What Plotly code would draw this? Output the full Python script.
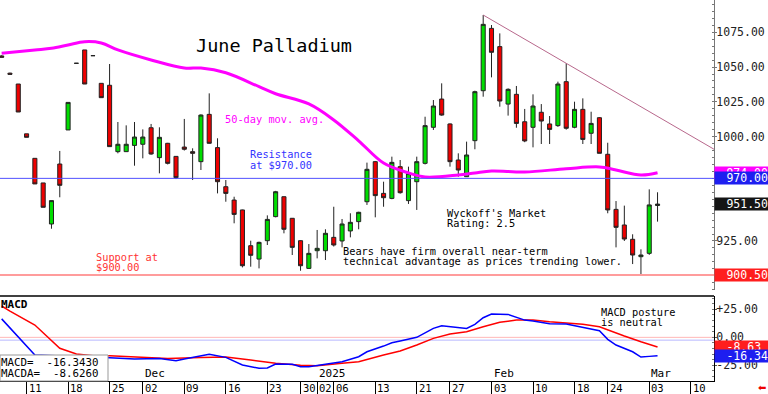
import plotly.graph_objects as go

# ---------------- data ----------------
dates = ['2024-11-06', '2024-11-07', '2024-11-08', '2024-11-11', '2024-11-12', '2024-11-13', '2024-11-14',
         '2024-11-15', '2024-11-18', '2024-11-19', '2024-11-20', '2024-11-21', '2024-11-22', '2024-11-25',
         '2024-11-26', '2024-11-27', '2024-11-29', '2024-12-02', '2024-12-03', '2024-12-04', '2024-12-05',
         '2024-12-06', '2024-12-09', '2024-12-10', '2024-12-11', '2024-12-12', '2024-12-13', '2024-12-16',
         '2024-12-17', '2024-12-18', '2024-12-19', '2024-12-20', '2024-12-23', '2024-12-24', '2024-12-26',
         '2024-12-27', '2024-12-30', '2024-12-31', '2025-01-02', '2025-01-03', '2025-01-06', '2025-01-07',
         '2025-01-08', '2025-01-09', '2025-01-10', '2025-01-13', '2025-01-14', '2025-01-15', '2025-01-16',
         '2025-01-17', '2025-01-21', '2025-01-22', '2025-01-23', '2025-01-24', '2025-01-27', '2025-01-28',
         '2025-01-29', '2025-01-30', '2025-01-31', '2025-02-03', '2025-02-04', '2025-02-05', '2025-02-06',
         '2025-02-07', '2025-02-10', '2025-02-11', '2025-02-12', '2025-02-13', '2025-02-14', '2025-02-18',
         '2025-02-19', '2025-02-20', '2025-02-21', '2025-02-24', '2025-02-25', '2025-02-26', '2025-02-27',
         '2025-02-28', '2025-03-03', '2025-03-04']

opens = [1058.0, 1045.6, 1037.8, 1002.0, 984.4, 966.7, 937.2, 980.3, 1004.8, 1052.7,
         1062.3, 1058.2, 1038.3, 1036.9, 989.2, 989.2, 993.7, 994.5, 1006.4, 984.9,
         995.2, 985.8, 992.5, 989.2, 982.0, 1016.0, 992.1, 964.0, 954.4, 947.3,
         921.6, 912.0, 925.2, 942.5, 956.8, 941.3, 925.2, 905.3, 918.0, 918.0,
         927.6, 925.0, 932.2, 938.9, 953.2, 982.0, 959.2, 955.6, 978.4, 954.0,
         967.6, 980.8, 1006.7, 1027.0, 1009.1, 983.2, 971.2, 997.1, 1033.0, 1077.8,
         1064.7, 1023.4, 1030.4, 1010.7, 1006.7, 1017.5, 1009.1, 1007.9, 1039.5, 1006.7,
         1019.6, 1002.4, 1013.6, 987.3, 947.7, 936.5, 926.2, 913.7, 916.1, 950.5]
highs = [1058.5, 1046.0, 1037.8, 1002.0, 984.4, 966.7, 954.0, 989.7, 1024.6, 1052.7,
         1062.3, 1058.2, 1038.3, 1052.2, 1010.5, 1008.1, 1010.5, 1005.2, 1009.1, 1006.7,
         995.5, 986.0, 1012.7, 991.6, 1016.0, 1031.1, 998.8, 968.8, 956.8, 947.5,
         925.2, 924.5, 943.4, 961.0, 957.0, 941.5, 925.5, 922.8, 932.9, 933.4,
         949.6, 940.8, 944.9, 946.0, 981.3, 982.5, 967.6, 985.6, 983.2, 978.4,
         985.6, 1014.3, 1026.3, 1038.3, 1009.5, 988.0, 996.4, 1033.0, 1087.4, 1080.2,
         1074.2, 1034.7, 1036.4, 1019.9, 1030.4, 1023.4, 1014.8, 1039.5, 1052.7, 1025.1,
         1027.5, 1017.9, 1014.0, 995.6, 953.7, 950.4, 929.8, 919.0, 962.1, 960.0]
lows = [1057.0, 1044.8, 1017.7, 999.5, 966.0, 949.2, 933.8, 956.4, 1004.8, 1052.7,
        1037.8, 1058.2, 1028.0, 992.8, 988.0, 989.0, 979.1, 984.4, 987.0, 973.6,
        980.0, 969.5, 990.0, 968.8, 976.0, 995.0, 959.2, 953.2, 937.7, 906.0,
        906.5, 905.3, 922.1, 942.0, 930.5, 914.9, 903.6, 905.0, 912.5, 911.3,
        921.0, 920.4, 927.6, 933.4, 950.9, 942.0, 949.6, 955.0, 959.0, 951.6,
        947.3, 980.0, 1004.8, 1015.0, 978.4, 971.2, 971.0, 990.9, 1028.7, 1042.6,
        1021.5, 1015.1, 1006.4, 996.0, 992.3, 994.7, 994.7, 1007.0, 1005.0, 1006.0,
        994.7, 994.7, 988.0, 944.9, 920.4, 925.0, 908.4, 900.5, 915.0, 938.9]
closes = [1057.0, 1044.8, 1017.7, 999.5, 966.0, 949.2, 954.0, 965.0, 1024.6, 1052.7,
          1037.8, 1058.2, 1028.0, 992.8, 994.5, 994.5, 999.7, 999.7, 987.5, 999.5,
          980.8, 970.5, 990.9, 988.0, 1015.5, 995.2, 967.6, 959.2, 944.1, 907.2,
          914.7, 924.0, 940.5, 960.4, 933.4, 920.4, 907.2, 916.1, 919.7, 930.5,
          922.1, 937.2, 938.4, 945.6, 976.5, 957.6, 956.1, 981.5, 959.7, 973.6,
          982.0, 1007.9, 1022.0, 1015.5, 982.0, 976.0, 986.8, 1032.3, 1080.7, 1060.6,
          1025.6, 1034.0, 1009.5, 996.9, 1022.0, 1011.2, 1005.2, 1037.8, 1006.0, 1019.6,
          998.0, 1009.5, 988.0, 947.3, 934.8, 926.4, 914.9, 914.9, 950.9, 951.5]

# 50-day moving average (read at selected days)
ma_days = [0, 4, 6, 8, 10, 12, 14, 18, 22, 24, 27, 31, 33, 37, 40, 43, 46, 49, 51, 55,
           57, 59, 63, 68, 72, 74, 77, 79]
ma_vals = [1060.0, 1062.3, 1063.5, 1065.9, 1068.2, 1067.3, 1062.3, 1055.1, 1049.3, 1049.3,
           1045.9, 1035.9, 1030.8, 1023.5, 1012.0, 997.0, 981.0, 973.9, 971.0, 972.4,
           973.9, 975.3, 974.6, 976.9, 978.2, 976.0, 972.4, 974.0]

# MACD (blue) and MACDA signal (red)
macd_days = [0, 4, 13, 16, 19, 21, 22, 25, 27, 29, 31, 32, 33, 35, 36, 37, 39, 41, 43, 44,
             46, 47, 48, 50, 52, 53, 56, 57, 58, 59, 61, 63, 64, 66, 68, 69, 70, 72, 73, 74,
             76, 77, 78, 79]
macd_vals = [16.5, -15.8, -18.2, -19.4, -18.8, -20.9, -19.4, -15.2, -17.9, -24.7, -27.7, -27.4,
             -23.8, -24.1, -26.2, -26.2, -24.1, -21.8, -17.3, -12.9, -7.8, -4.8, -3.2, 0.0,
             8.0, 10.4, 8.0, 11.6, 17.5, 20.8, 20.5, 15.4, 14.6, 12.1, 11.9, 10.4, 8.6, 5.9,
             -1.8, -6.9, -12.9, -17.6, -17.0, -16.343]
sig_days = [0, 1, 4, 7, 9, 11, 13, 16, 20, 24, 27, 30, 33, 36, 38, 41, 43, 46, 48, 50,
            52, 54, 56, 58, 60, 62, 64, 66, 68, 70, 72, 73, 75, 77, 79]
sig_vals = [28.0, 23.5, 11.0, -9.8, -14.9, -16.4, -16.4, -17.3, -18.8, -17.9, -17.6, -20.3,
            -23.2, -25.0, -25.3, -23.2, -21.8, -15.8, -12.2, -6.9, -0.9, 2.9, 5.0, 9.5, 13.4,
            15.4, 15.4, 13.9, 13.0, 11.6, 9.5, 6.5, 1.2, -3.9, -8.626]

tick_days = [3, 8, 13, 17, 22, 27, 32, 36, 38, 40, 45, 50, 54, 59, 64, 69, 73, 78, 83]
tick_labels = ['11', '18', '25', '02', '09', '16', '23', '30', '02', '06', '13', '21', '27',
               '03', '10', '18', '24', '03', '10']
month_days = [17, 38, 59, 78]
month_labels = ['Dec', '2025', 'Feb', 'Mar']

price_ticks = [900, 925, 950, 975, 1000, 1025, 1050, 1075]
price_ticklabels = ['', '925.00', '', '', '1000.00', '1025.00', '1050.00', '1075.00']  # others hidden by value boxes
macd_ticks = [25, 0, -25]
macd_ticklabels = ['+25.00', '0.00', '-25.00']

resistance = 970.0
support = 900.5
ma_last = 974.00
trend_days = [58, 68]   # trendline drawn across the highs of these sessions

# ---------------- figure ----------------
MONO = 'DejaVu Sans Mono'
x = list(range(len(dates)))
XR = [-0.2, 85.8]
fig = go.Figure()

fig.add_trace(go.Scatter(x=ma_days, y=ma_vals, mode='lines', line=dict(color='#FF00FF', width=3, shape='spline'),
                         xaxis='x', yaxis='y', hoverinfo='skip'))

fig.add_trace(go.Candlestick(
    x=x, open=opens, high=highs, low=lows, close=closes, xaxis='x', yaxis='y',
    increasing=dict(line=dict(color='#222222', width=1), fillcolor='#00DD00'),
    decreasing=dict(line=dict(color='#222222', width=1), fillcolor='#EE0000'),
    whiskerwidth=0, showlegend=False))

# trendline through the highs
slope = (highs[trend_days[1]] - highs[trend_days[0]]) / (trend_days[1] - trend_days[0])
tx = [trend_days[0], XR[1] + 1]
ty = [highs[trend_days[0]], highs[trend_days[0]] + slope * (tx[1] - trend_days[0])]
fig.add_trace(go.Scatter(x=tx, y=ty, mode='lines', line=dict(color='#B8688C', width=1), xaxis='x', yaxis='y'))

# MACD panel lines
fig.add_trace(go.Scatter(x=XR, y=[0, 0], mode='lines', line=dict(color='#FFB8B8', width=1), xaxis='x2', yaxis='y2'))
fig.add_trace(go.Scatter(x=XR, y=[-2.5, -2.5], mode='lines', line=dict(color='#B8B8FF', width=1), xaxis='x2', yaxis='y2'))
fig.add_trace(go.Scatter(x=sig_days, y=sig_vals, mode='lines', line=dict(color='#FF0000', width=1.5), xaxis='x2', yaxis='y2'))
fig.add_trace(go.Scatter(x=macd_days, y=macd_vals, mode='lines', line=dict(color='#0000FF', width=1.5), xaxis='x2', yaxis='y2'))

shapes = [
    dict(type='line', xref='x domain', yref='y', x0=0, x1=1, y0=resistance, y1=resistance,
         line=dict(color='#5050FF', width=1)),
    dict(type='line', xref='x domain', yref='y', x0=0, x1=1, y0=support, y1=support,
         line=dict(color='#FF9C9C', width=2)),
    dict(type='line', xref='paper', yref='paper', x0=0, x1=1, y0=0.223, y1=0.223,
         line=dict(color='#000000', width=1.5)),
    dict(type='rect', xref='paper', yref='paper', x0=0, x1=108 / 714, y0=0, y1=(381 - 355) / 381,
         line=dict(color='#999999', width=1), fillcolor='white', layer='above'),
]

H = 381.0
W = 714.0


def px(xp):
    return xp / W


def py(yp):
    return 1 - yp / H


ann = []


def text(t, xp, yp, size=10.3, color='#000000', bold=False):
    ann.append(dict(text=('<b>%s</b>' % t) if bold else t, xref='paper', yref='paper', x=px(xp), y=py(yp),
                    xanchor='left', yanchor='middle', showarrow=False, borderpad=0,
                    font=dict(family=MONO, size=size, color=color)))


text('June Palladium', 195, 45, size=18.5)
text('50-day mov. avg.', 224, 119.5, color='#FF00FF')
text('Resistance', 249, 154.5, color='#3333FF')
text('at $970.00', 249, 164.5, color='#3333FF')
text('Support at', 95, 256.5, color='#FF3333')
text('$900.00', 95, 267, color='#FF3333')
text("Wyckoff's Market", 446, 212.5)
text('Rating: 2.5', 446, 222.5)
text('Bears have firm overall near-term', 342, 251)
text('technical advantage as prices trending lower.', 342, 261)
text('MACD posture', 600, 311.5)
text('is neutral', 600, 321.5)
text('MACD', 0, 304, size=11, bold=True)
text('MACD=  %.4f' % macd_vals[-1], 0, 362, size=10.8)
text('MACDA=  %.4f' % sig_vals[-1], 0, 373, size=10.8)

for d, lab in zip(month_days, month_labels):
    ann.append(dict(text=lab, xref='x2', yref='paper', x=d, y=0, xanchor='left', yanchor='bottom',
                    xshift=1, showarrow=False, borderpad=0, font=dict(family=MONO, size=11, color='#000')))
for d, lab in zip(tick_days, tick_labels):
    ann.append(dict(text=lab, xref='x2', yref='paper', x=d, y=py(388), xanchor='left', yanchor='middle',
                    xshift=1, showarrow=False, borderpad=0,
                    font=dict(family=MONO, size=10.5, color='#000')))


def box(val, yref, bg, label):
    ann.append(dict(text=label, xref='paper', yref=yref, x=1, y=val, xanchor='left', yanchor='middle',
                    xshift=0, showarrow=False, bgcolor=bg, borderpad=0, width=53, height=12,
                    align='right', font=dict(family=MONO, size=11.5, color='white')))


box(ma_last, 'y', '#FF00FF', '%.2f' % ma_last)
box(resistance, 'y', '#1E1EF0', '%.2f' % resistance)
box(closes[-1], 'y', '#151515', '%.2f' % closes[-1])
box(min(lows), 'y', '#FF1E1E', '%.2f' % min(lows))
box(sig_vals[-1], 'y2', '#FF1E1E', '%.2f ' % sig_vals[-1])
box(macd_vals[-1], 'y2', '#1E1EF0', '%.2f' % macd_vals[-1])

ann.append(dict(text='⬅', xref='paper', yref='paper', x=px(762), y=py(387), xanchor='center', yanchor='middle',
                showarrow=False, font=dict(family='DejaVu Sans', size=10, color='#EE0000')))

fig.update_layout(
    width=768, height=394,
    margin=dict(l=0, r=54, t=0, b=13),
    paper_bgcolor='white', plot_bgcolor='white',
    showlegend=False,
    shapes=shapes, annotations=ann,
    xaxis=dict(domain=[0, 1], range=XR, anchor='y', showticklabels=False, showgrid=False, zeroline=False,
               rangeslider=dict(visible=False), showline=False, ticks=''),
    xaxis2=dict(domain=[0, 1], range=XR, anchor='y2', matches='x', showgrid=False, zeroline=False,
                tickvals=tick_days, showticklabels=False, ticks='outside', ticklen=13, tickcolor='#000',
                tickwidth=1, showline=True, linecolor='#000', linewidth=1),
    yaxis=dict(domain=[0.239, 1], range=[889.8, 1098.2], side='right', anchor='x', showgrid=False,
               zeroline=False, tickvals=price_ticks, ticktext=price_ticklabels,
               showline=True, linecolor='#777777', linewidth=1, ticks='outside', ticklen=2, tickcolor='#777',
               ticklabelstandoff=-3,
               minor=dict(ticks='inside', ticklen=2, dtick=5, tickcolor='#777', tick0=900),
               tickfont=dict(family=MONO, size=11.5, color='#222')),
    yaxis2=dict(domain=[0, 0.223], range=[-39, 36.9], side='right', anchor='x2', showgrid=False,
                zeroline=False, tickvals=macd_ticks, ticktext=macd_ticklabels,
                showline=True, linecolor='#000', linewidth=1, ticks='outside', ticklen=2, tickcolor='#555',
                ticklabelstandoff=-3,
                minor=dict(ticks='inside', ticklen=2, dtick=5, tickcolor='#777', tick0=0),
                tickfont=dict(family=MONO, size=11.5, color='#222')),
)

fig.write_html('out.html', config={'displayModeBar': False},
               post_script="document.body.style.margin='0px';document.body.style.overflow='hidden';")
